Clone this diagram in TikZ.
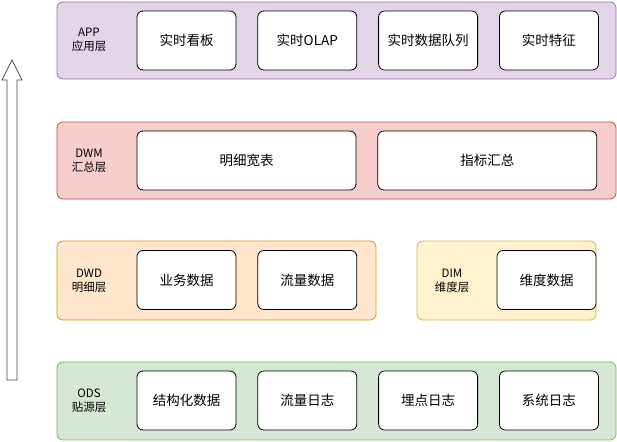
\documentclass[tikz,border=0pt]{standalone}
\usepackage{fontspec}
\setmainfont{Noto Sans CJK SC}
\usepackage{tikz}
\usetikzlibrary{positioning, calc}

\definecolor{appfill}{HTML}{E1D5E7}\definecolor{appline}{HTML}{9673A6}
\definecolor{dwmfill}{HTML}{F8CECC}\definecolor{dwmline}{HTML}{B85450}
\definecolor{dwdfill}{HTML}{FFE6CC}\definecolor{dwdline}{HTML}{D79B00}
\definecolor{dimfill}{HTML}{FFF2CC}\definecolor{dimline}{HTML}{D6B656}
\definecolor{odsfill}{HTML}{D5E8D4}\definecolor{odsline}{HTML}{82B366}

\tikzset{
  layer/.style={draw=#1line, fill=#1fill, rounded corners=6pt, line width=0.8pt},
  item/.style={draw=black, fill=white, rounded corners=6pt, line width=0.8pt,
               minimum height=59pt, inner sep=0pt, font=\fontsize{13.5}{16}\selectfont},
  tag/.style={align=center, font=\fontsize{11.5}{14}\selectfont}
}

\begin{document}
\begin{tikzpicture}[x=1pt, y=-1pt]
\useasboundingbox (0,0) rectangle (617,441);

% Arrow
\draw[line width=0.8pt, fill=white, draw=black!70]
  (7,380) -- (17,380) -- (17,80) -- (22,80) -- (12,60) -- (2,80) -- (7,80) -- cycle;

% Layers
\draw[layer=app] (57,2) rectangle (616,79);
\draw[layer=dwm] (57,122) rectangle (616,199);
\draw[layer=dwd] (57,241) rectangle (376,320);
\draw[layer=dim] (417,241) rectangle (596,320);
\draw[layer=ods] (57,362) rectangle (616,440);

% Layer labels
\node[tag] (appTag) at (89,40) {APP\\应用层};
\node[tag] (dwmTag) at (89,161) {DWM\\汇总层};
\node[tag] (dwdTag) at (89,281) {DWD\\明细层};
\node[tag] (dimTag) at (452,281) {DIM\\维度层};
\node[tag] (odsTag) at (89,401) {ODS\\贴源层};

% APP
\node[item, minimum width=99pt] (board) at (186.5,40.5) {实时看板};
\node[item, minimum width=99pt, right=21pt of board] (olap) {实时OLAP};
\node[item, minimum width=99pt, right=21pt of olap] (queue) {实时数据队列};
\node[item, minimum width=99pt, right=21pt of queue] (feature) {实时特征};

% DWM
\node[item, minimum width=219pt] (wide) at (246.5,160.5) {明细宽表};
\node[item, minimum width=219pt, right=21pt of wide] (metric) {指标汇总};

% DWD / DIM
\node[item, minimum width=99pt] (biz) at (186.5,280) {业务数据};
\node[item, minimum width=99pt, right=21pt of biz] (flow) {流量数据};
\node[item, minimum width=99pt] (dim) at (546.5,280) {维度数据};

% ODS
\node[item, minimum width=99pt] (struct) at (186.5,400.5) {结构化数据};
\node[item, minimum width=99pt, right=21pt of struct] (flowlog) {流量日志};
\node[item, minimum width=99pt, right=21pt of flowlog] (tracklog) {埋点日志};
\node[item, minimum width=99pt, right=21pt of tracklog] (syslog) {系统日志};

\end{tikzpicture}
\end{document}
